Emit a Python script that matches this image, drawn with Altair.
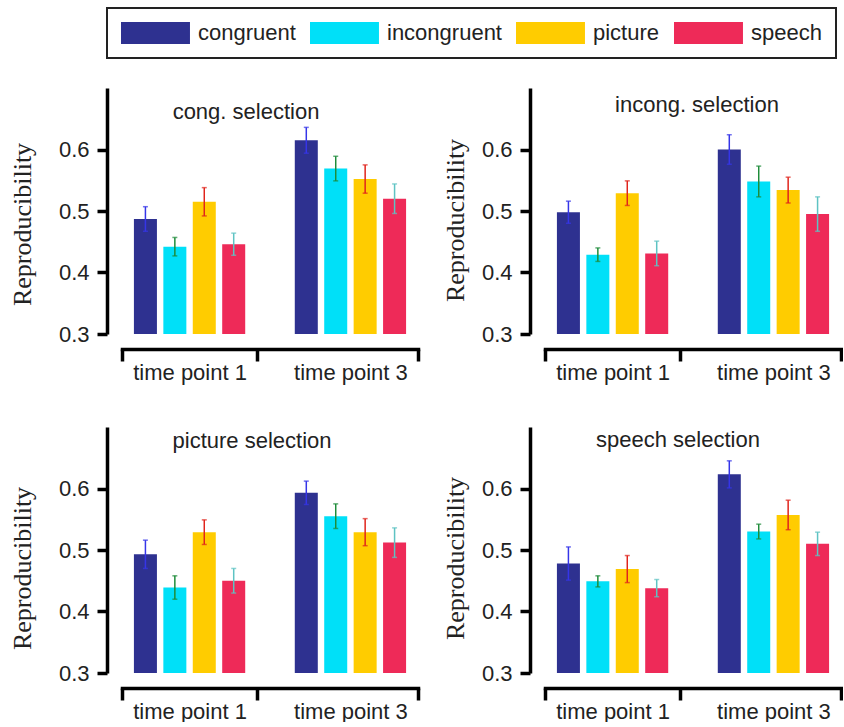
import altair as alt
import pandas as pd

conditions = ["congruent", "incongruent", "picture", "speech"]
time_points = ["time point 1", "time point 3"]
panel_titles = ["cong. selection", "incong. selection", "picture selection", "speech selection"]

# means per panel: [tp1 x 4 conditions, tp3 x 4 conditions]
cong_tp1 = [0.487, 0.442, 0.515, 0.446]
cong_tp3 = [0.615, 0.569, 0.552, 0.520]
incong_tp1 = [0.498, 0.429, 0.529, 0.431]
incong_tp3 = [0.600, 0.548, 0.534, 0.495]
picture_tp1 = [0.493, 0.439, 0.529, 0.450]
picture_tp3 = [0.593, 0.555, 0.529, 0.512]
speech_tp1 = [0.478, 0.449, 0.469, 0.438]
speech_tp3 = [0.623, 0.530, 0.557, 0.510]

# half-length of error bars
cong_err_tp1 = [0.020, 0.015, 0.023, 0.018]
cong_err_tp3 = [0.021, 0.020, 0.023, 0.024]
incong_err_tp1 = [0.018, 0.011, 0.020, 0.020]
incong_err_tp3 = [0.024, 0.025, 0.021, 0.028]
picture_err_tp1 = [0.023, 0.019, 0.020, 0.020]
picture_err_tp3 = [0.019, 0.020, 0.022, 0.024]
speech_err_tp1 = [0.027, 0.009, 0.022, 0.014]
speech_err_tp3 = [0.022, 0.012, 0.024, 0.019]

bar_colors = ["#2e3190", "#00e0f8", "#ffcc00", "#ee2a58"]
err_colors = ["#3535e8", "#1e8c3a", "#e0241c", "#5ec3c3"]

FONT = "Liberation Sans"
TXT = "#222222"


def make_df(tp1, tp3, e1, e3):
    rows = []
    for tp, means, errs in ((time_points[0], tp1, e1), (time_points[1], tp3, e3)):
        for c, m, e, ec in zip(conditions, means, errs, err_colors):
            rows.append({"time": tp, "cond": c, "mean": m, "lo": m - e, "hi": m + e, "ecol": ec})
    return pd.DataFrame(rows)


legend = alt.Legend(
    title=None, orient="none", legendX=-15, legendY=-80, direction="horizontal", columns=4,
    symbolType="M-1,-1H5.27V1H-1Z", symbolSize=484, symbolStrokeWidth=0, symbolOpacity=1,
    labelOffset=55, labelFontSize=22, labelFont=FONT, labelColor=TXT, columnPadding=14,
    padding=14, labelLimit=300,
)


def panel(name, df, title_dx, title_offset, ytitle_pad, ytitle_y):
    xscale = alt.Scale(paddingInner=0.16, paddingOuter=0)
    x_axis = alt.Axis(
        title=None, labelAngle=0, domainWidth=3.5, domainColor="black", tickBand="extent",
        tickSize=12, tickWidth=3.5, tickColor="black", offset=15, labelFontSize=22,
        labelPadding=1, labelColor=TXT, labelFont=FONT, domainCap="square",
    )
    xo = alt.XOffset("cond:N", sort=conditions,
                     scale=alt.Scale(paddingInner=0.218, paddingOuter=0.405))
    yscale = alt.Scale(domain=[0.3, 0.7], zero=False, nice=False)
    y_axis = alt.Axis(
        values=[0.3, 0.4, 0.5, 0.6], format=".1f", title="Reproducibility",
        titleFont="Liberation Serif", titleFontSize=26, titleFontWeight="normal",
        titleColor=TXT, titlePadding=ytitle_pad, titleY=ytitle_y, domainWidth=3.5,
        domainColor="black", tickSize=10, tickWidth=3.5, tickColor="black",
        labelFontSize=22, labelFont=FONT, labelColor=TXT, labelPadding=8, offset=15,
        grid=False,
    )
    xenc = alt.X("time:N", sort=time_points, scale=xscale, axis=x_axis)
    base = alt.Chart(df)
    bars = base.mark_bar().encode(
        x=xenc,
        xOffset=xo,
        y=alt.Y("mean:Q", scale=yscale, axis=y_axis),
        y2=alt.datum(0.3),
        color=alt.Color("cond:N", sort=conditions,
                        scale=alt.Scale(domain=conditions, range=bar_colors), legend=legend),
    )
    rules = base.mark_rule(strokeWidth=1.5).encode(
        x=xenc,
        xOffset=xo,
        y=alt.Y("lo:Q", scale=yscale, axis=y_axis),
        y2="hi:Q",
        stroke=alt.Stroke("ecol:N", scale=None),
    )
    caps_hi = base.mark_tick(size=5, thickness=1.5, orient="horizontal").encode(
        x=xenc,
        xOffset=xo,
        y=alt.Y("hi:Q", scale=yscale, axis=y_axis),
        fill=alt.Fill("ecol:N", scale=None),
    )
    caps_lo = base.mark_tick(size=5, thickness=1.5, orient="horizontal").encode(
        x=xenc,
        xOffset=xo,
        y=alt.Y("lo:Q", scale=yscale, axis=y_axis),
        fill=alt.Fill("ecol:N", scale=None),
    )
    return alt.layer(bars, rules, caps_hi, caps_lo).properties(
        width=296, height=246,
        title=alt.TitleParams(
            text=name, anchor="middle", frame="group", offset=title_offset, dx=title_dx,
            fontSize=22, font=FONT, fontWeight="normal", color=TXT, baseline="top",
        ),
    )


p1 = panel(panel_titles[0], make_df(cong_tp1, cong_tp3, cong_err_tp1, cong_err_tp3), -24, -35.7, 23, 136)
p2 = panel(panel_titles[1], make_df(incong_tp1, incong_tp3, incong_err_tp1, incong_err_tp3), 4, -29, 13, 132)
p3 = panel(panel_titles[2], make_df(picture_tp1, picture_tp3, picture_err_tp1, picture_err_tp3), -18, -26.3, 23, 141)
p4 = panel(panel_titles[3], make_df(speech_tp1, speech_tp3, speech_err_tp1, speech_err_tp3), -15, -24.7, 13, 131)

chart = alt.vconcat(
    alt.hconcat(p1, p2, spacing=22),
    alt.hconcat(p3, p4, spacing=22),
    spacing=44,
).configure_view(stroke=None).configure_legend(
    strokeColor="#222222", strokeWidth=2,
).properties(
    padding={"left": 9, "top": 7, "right": 0, "bottom": 0},
    background="white",
)

chart.save("out.html", embed_options={"renderer": "svg", "actions": False})
